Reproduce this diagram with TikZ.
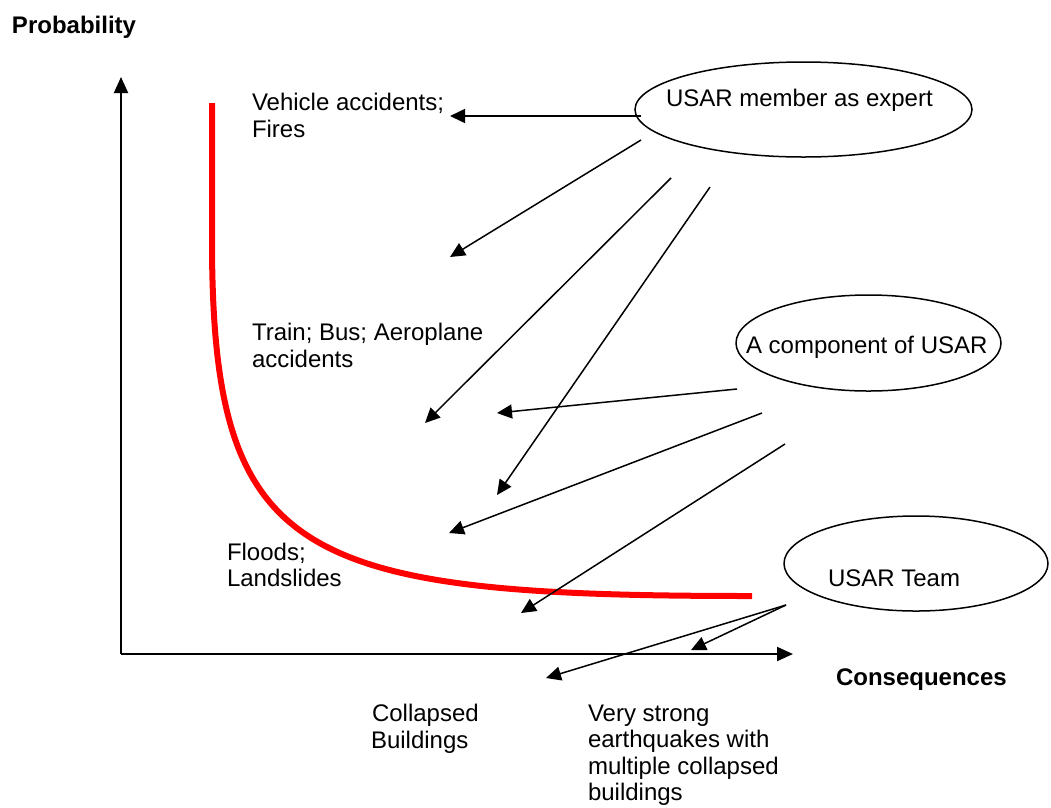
\documentclass[tikz,border=0pt]{standalone}
\usepackage{fontspec}
\setmainfont{Liberation Sans}
\usetikzlibrary{arrows.meta,shapes.geometric}
\begin{document}
\begin{tikzpicture}[x=1pt,y=-1pt,
  every node/.style={inner sep=0pt, outer sep=0pt, font=\fontsize{24}{27}\selectfont},
  lbl/.style={anchor=base west},
  heading/.style={anchor=base west, font=\fontsize{24}{27}\selectfont\bfseries},
  oval/.style={draw, ellipse, line width=1.5pt},
  link/.style={line width=1.5pt, -{Triangle[length=15pt,width=14pt]}},
  axis/.style={line width=2pt, -{Triangle[length=16pt,width=14pt]}},
  riskcurve/.style={red, line width=6pt}]

\useasboundingbox[fill=white] (0,0) rectangle (1051,807);

% axes
\coordinate (O) at (121,654);
\coordinate (ytip) at (121,77);
\coordinate (xtip) at (793,654);
\draw[axis] (O) -- (ytip);
\draw[axis] (O) -- (xtip);
\node[heading] (prob) at (12,33) {Probability};
\node[heading] (cons) at (836,685) {Consequences};

% probability / consequence curve
\coordinate (c0) at (212,103);
\coordinate (c1) at (212,250);
\coordinate (c2) at (752,596);
\draw[riskcurve] (c0) -- (c1) .. controls (214,560) and (300,596) .. (c2);

% event labels
\node[lbl] (veh1) at (252,110) {Vehicle accidents;};
\node[lbl] (veh2) at (252,137) {Fires};
\node[lbl] (tra1) at (252,340) {Train; Bus; Aeroplane};
\node[lbl] (tra2) at (252,367) {accidents};
\node[lbl] (flo1) at (227,560) {Floods;};
\node[lbl] (flo2) at (227,586) {Landslides};
\node[lbl] (col1) at (372,721) {Collapsed};
\node[lbl] (col2) at (371,748) {Buildings};
\node[lbl] (eq1) at (588,721) {Very strong};
\node[lbl] (eq2) at (588,747) {earthquakes with};
\node[lbl] (eq3) at (588,774) {multiple collapsed};
\node[lbl] (eq4) at (588,800) {buildings};

% roles
\node[oval, minimum width=337, minimum height=95] (expert) at (803.5,109.5) {};
\node[lbl] (expertT) at (666,106) {USAR member as expert};
\node[oval, minimum width=265, minimum height=96] (comp) at (868.5,343) {};
\node[lbl] (compT) at (746,353) {A component of USAR};
\node[oval, minimum width=264, minimum height=95] (team) at (916,563.5) {};
\node[lbl] (teamT) at (828,586) {USAR Team};

% arrow start and end points
\coordinate (s1) at (641,116);  \coordinate (t1) at (450,116);
\coordinate (s2) at (641,140);  \coordinate (t2) at (450,257);
\coordinate (s3) at (671,178);  \coordinate (t3) at (425,423);
\coordinate (s4) at (710,187);  \coordinate (t4) at (497,495);
\coordinate (s5) at (737,389);  \coordinate (t5) at (497,413);
\coordinate (s6) at (762,413);  \coordinate (t6) at (449,533);
\coordinate (s7) at (785,444);  \coordinate (t7) at (521,613);
\coordinate (s8) at (786,605);  \coordinate (t8) at (546,678);
\coordinate (t9) at (691,650);

\draw[link] (s1) -- (t1);
\draw[link] (s2) -- (t2);
\draw[link] (s3) -- (t3);
\draw[link] (s4) -- (t4);
\draw[link] (s5) -- (t5);
\draw[link] (s6) -- (t6);
\draw[link] (s7) -- (t7);
\draw[link] (s8) -- (t8);
\draw[link] (s8) -- (t9);
\end{tikzpicture}
\end{document}
